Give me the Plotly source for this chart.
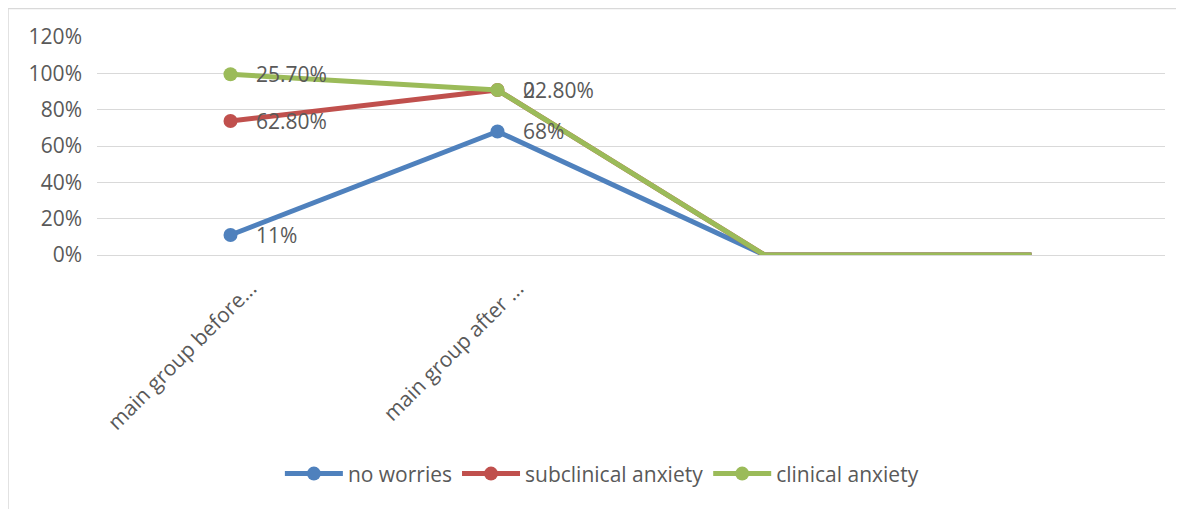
import numpy as np
import plotly.graph_objects as go

# categories (last two are blank in the source sheet)
categories = ["main group before...", "main group after ...", "", ""]
no_worries = [0.11, 0.68, 0.0, 0.0]
subclinical = [0.628, 0.228, 0.0, 0.0]
clinical = [0.257, 0.0, 0.0, 0.0]
label_no_worries = ["11%", "68%", "", ""]
label_subclinical = ["62.80%", "22.80%", "", ""]
label_clinical = ["25.70%", "0", "", ""]
y_ticks = [0, 0.2, 0.4, 0.6, 0.8, 1.0, 1.2]

series = [
    ("no worries", no_worries, label_no_worries, "#4F81BD"),
    ("subclinical anxiety", subclinical, label_subclinical, "#C0504D"),
    ("clinical anxiety", clinical, label_clinical, "#9BBB59"),
]

x = np.arange(len(categories))
font_color = "#595959"
font_family = "Open Sans"

# page body has an 8px margin, so the figure is 8px smaller than the window
W, H = 1176, 501
L, R, T, B = 89, 19, 29, 254
pw, ph = W - L - R, H - T - B

fig = go.Figure()
annotations = []
cum = np.zeros(len(categories))
for name, vals, labels, color in series:
    cum = cum + np.array(vals)
    has = np.array([bool(lab) for lab in labels])
    last = int(np.where(has)[0].max())
    # points with data: line + markers (legend entry)
    fig.add_trace(go.Scatter(
        x=x[has], y=cum[has], name=name, mode="lines+markers",
        line=dict(color=color, width=5),
        marker=dict(color=color, size=14, opacity=1, line=dict(width=0)),
        legendgroup=name,
    ))
    # blank cells plotted as zero: line only
    fig.add_trace(go.Scatter(
        x=x[last:], y=cum[last:], mode="lines", showlegend=False,
        line=dict(color=color, width=5), legendgroup=name, hoverinfo="skip",
    ))
    for xi, yi, lab in zip(x, cum, labels):
        if lab:
            annotations.append(dict(
                x=xi, y=yi, text=lab, showarrow=False, xanchor="left",
                yanchor="middle", xshift=23,
                font=dict(size=21, color=font_color, family=font_family),
            ))

fx = lambda px: (px - L) / pw
fy = lambda py: (T + ph - py) / ph

fig.update_layout(
    width=W, height=H,
    margin=dict(l=L, r=R, t=T, b=B, autoexpand=False),
    paper_bgcolor="white", plot_bgcolor="white",
    font=dict(family=font_family, size=21, color=font_color),
    showlegend=True,
    legend=dict(
        orientation="h", xref="container", yref="container",
        x=0.505, y=0.070, xanchor="center", yanchor="middle",
        font=dict(size=21, color=font_color), itemwidth=58,
        traceorder="normal",
    ),
    annotations=annotations,
    shapes=[
        dict(type="line", xref="paper", yref="paper",
             x0=fx(0), x1=fx(W), y0=fy(0.5), y1=fy(0.5),
             line=dict(color="#d9d9d9", width=1.5)),
        dict(type="line", xref="paper", yref="paper",
             x0=fx(0), x1=fx(0), y0=fy(0), y1=fy(H),
             line=dict(color="#d9d9d9", width=1.5)),
    ],
)
fig.update_xaxes(
    range=[-0.5, 3.5], tickvals=x, ticktext=categories, tickangle=-45,
    showgrid=False, zeroline=False, showline=False, ticks="",
    ticklabelstandoff=16, ticklabelshift=20,
)
fig.update_yaxes(
    range=[0, 1.2], tickvals=y_ticks, tickformat=".0%",
    showgrid=True, gridcolor="#d9d9d9", gridwidth=1,
    zeroline=True, zerolinecolor="#d9d9d9", zerolinewidth=1,
    showline=False, ticks="", ticklabelstandoff=14,
)

fig.write_html("out.html")
